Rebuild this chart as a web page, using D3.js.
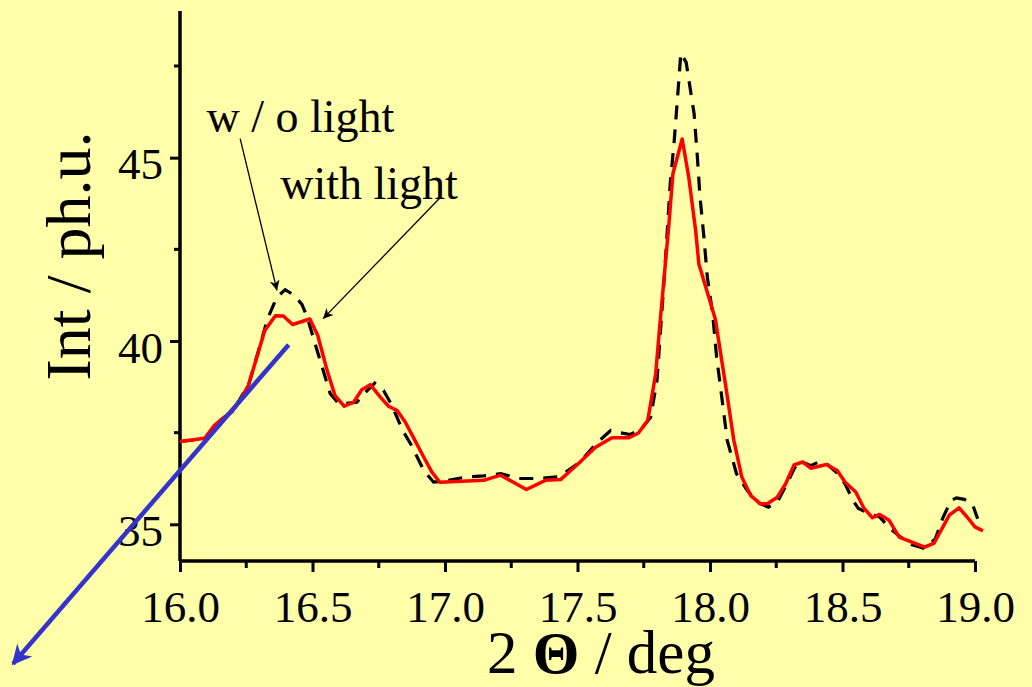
<!DOCTYPE html>
<html>
<head>
<meta charset="utf-8">
<script src="https://cdn.jsdelivr.net/npm/d3@7"></script>
<style>
  html, body { margin: 0; padding: 0; background: #fffea9; }
  svg { display: block; font-family: "Liberation Serif", "Times New Roman", serif; }
</style>
</head>
<body>
<svg width="1032" height="687"></svg>
<script>
// with light (red), [2theta, intensity]
const withLight = [
  [16.00, 37.26], [16.094, 37.35], [16.13, 37.70], [16.16, 37.88], [16.195, 38.06],
  [16.227, 38.38], [16.258, 38.79], [16.29, 39.56], [16.32, 40.29], [16.36, 40.69],
  [16.39, 40.68], [16.425, 40.45], [16.49, 40.60], [16.52, 40.15], [16.555, 39.20],
  [16.585, 38.51], [16.62, 38.22], [16.655, 38.33], [16.686, 38.67], [16.718, 38.81],
  [16.756, 38.47], [16.787, 38.22], [16.82, 38.10], [16.85, 37.79], [16.88, 37.38],
  [16.92, 36.83], [16.95, 36.43], [16.98, 36.15], [17.146, 36.20], [17.21, 36.34],
  [17.307, 35.95], [17.379, 36.20], [17.436, 36.22], [17.51, 36.70], [17.568, 37.10],
  [17.63, 37.36], [17.694, 37.36], [17.73, 37.49], [17.765, 37.83], [17.795, 39.10],
  [17.81, 40.38], [17.845, 43.19], [17.86, 44.56], [17.895, 45.51], [17.92, 44.46],
  [17.946, 43.00], [17.958, 42.10], [18.02, 40.60], [18.06, 38.74], [18.09, 37.29],
  [18.12, 36.29], [18.153, 35.79], [18.19, 35.56], [18.216, 35.56], [18.254, 35.74],
  [18.285, 36.10], [18.317, 36.62], [18.35, 36.70], [18.38, 36.53], [18.44, 36.63],
  [18.48, 36.47], [18.51, 36.15], [18.55, 35.88], [18.58, 35.45], [18.613, 35.18],
  [18.64, 35.27], [18.676, 35.11], [18.714, 34.65], [18.75, 34.55], [18.81, 34.38],
  [18.846, 34.49], [18.903, 35.25], [18.94, 35.45], [18.97, 35.20], [19.00, 34.93],
  [19.03, 34.82]
];

// without light (black dashed)
const withoutLight = [
  [16.00, 37.26], [16.094, 37.33], [16.15, 37.83], [16.20, 38.10], [16.26, 38.83],
  [16.30, 39.83], [16.33, 40.60], [16.365, 41.19], [16.397, 41.40], [16.43, 41.25],
  [16.46, 41.00], [16.48, 40.65], [16.51, 39.92], [16.567, 38.56], [16.60, 38.28],
  [16.667, 38.33], [16.70, 38.60], [16.735, 38.85], [16.768, 38.65], [16.80, 38.24],
  [16.84, 37.56], [16.87, 37.20], [16.92, 36.47], [16.957, 36.15], [17.00, 36.18],
  [17.08, 36.29], [17.146, 36.32], [17.21, 36.38], [17.28, 36.25], [17.36, 36.25],
  [17.43, 36.30], [17.51, 36.70], [17.57, 37.20], [17.625, 37.56], [17.66, 37.50],
  [17.70, 37.45], [17.74, 37.60], [17.776, 37.92], [17.80, 38.92], [17.83, 42.00],
  [17.85, 44.30], [17.864, 45.37], [17.876, 46.50], [17.89, 47.85], [17.91, 47.60],
  [17.94, 46.20], [17.952, 45.05], [17.962, 43.96], [17.977, 42.83], [17.99, 41.74],
  [18.01, 40.74], [18.025, 39.56], [18.046, 38.38], [18.065, 37.29], [18.10, 36.38],
  [18.14, 35.93], [18.18, 35.60], [18.22, 35.47], [18.254, 35.61], [18.29, 36.10],
  [18.32, 36.55], [18.35, 36.70], [18.38, 36.60], [18.41, 36.70], [18.44, 36.65],
  [18.48, 36.40], [18.51, 36.10], [18.54, 35.65], [18.56, 35.43], [18.60, 35.30],
  [18.64, 35.20], [18.68, 34.88], [18.72, 34.65], [18.76, 34.45], [18.81, 34.34],
  [18.85, 34.60], [18.88, 35.20], [18.91, 35.65], [18.93, 35.72], [18.96, 35.68],
  [18.99, 35.56], [19.01, 35.15]
];

const xTicks = [16.0, 16.5, 17.0, 17.5, 18.0, 18.5, 19.0];
const yTicks = [35, 40, 45];

// annotations in data coords: text anchor, arrow from -> to
const labels = [
  { text: 'w / o light', x: 16.10, y: 45.71, from: [16.227, 45.52], to: [16.366, 41.38] },
  { text: 'with light', x: 16.378, y: 43.88, from: [16.986, 43.94], to: [16.54, 40.61] }
];
const blueArrow = { from: [16.41, 39.9], to: [15.37, 31.2] };

const svg = d3.select('svg');
const margin = { left: 180, right: 57, top: 11, bottom: 126 };
const W = 1032, H = 687;

const x = d3.scaleLinear().domain([16, 19]).range([margin.left, W - margin.right]);
const y = d3.scaleLinear().domain([34, 49]).range([H - margin.bottom, margin.top]);

const defs = svg.append('defs');
defs.append('marker')
  .attr('id', 'thinArrow')
  .attr('viewBox', '0 0 10 10')
  .attr('refX', 10).attr('refY', 5)
  .attr('markerWidth', 14).attr('markerHeight', 10)
  .attr('markerUnits', 'userSpaceOnUse')
  .attr('orient', 'auto')
  .append('path').attr('d', 'M0,0 L10,5 L0,10 L3,5 Z').attr('fill', '#000');
defs.append('marker')
  .attr('id', 'blueHead')
  .attr('viewBox', '0 0 10 10')
  .attr('refX', 9).attr('refY', 5)
  .attr('markerWidth', 26).attr('markerHeight', 20)
  .attr('markerUnits', 'userSpaceOnUse')
  .attr('orient', 'auto')
  .append('path').attr('d', 'M0,0 L10,5 L0,10 L3,5 Z').attr('fill', '#3434cc');

// axes
const xAxis = d3.axisBottom(x).tickValues(xTicks).tickFormat(d3.format('.1f')).tickSize(11);
const yAxis = d3.axisLeft(y).tickValues(yTicks).tickFormat(d3.format('d')).tickSize(10);

const gx = svg.append('g').attr('transform', `translate(0,${y(34)})`).call(xAxis);
const gy = svg.append('g').attr('transform', `translate(${x(16)},0)`).call(yAxis);

// minor ticks
svg.append('g').selectAll('line')
  .data(d3.range(16.25, 19, 0.5))
  .join('line')
  .attr('x1', d => x(d)).attr('x2', d => x(d))
  .attr('y1', y(34)).attr('y2', y(34) + 7)
  .attr('stroke', '#000').attr('stroke-width', 3);
svg.append('g').selectAll('line')
  .data([37.5, 42.5, 47.5])
  .join('line')
  .attr('x1', x(16)).attr('x2', x(16) - 6)
  .attr('y1', d => y(d)).attr('y2', d => y(d))
  .attr('stroke', '#000').attr('stroke-width', 3);

[gx, gy].forEach(g => {
  g.attr('font-family', '"Liberation Serif", serif');
  g.select('.domain').attr('stroke', '#000').attr('stroke-width', 3.5);
  g.selectAll('.tick line').attr('stroke', '#000').attr('stroke-width', 3);
  g.selectAll('.tick text')
    .attr('font-size', 45)
    .attr('fill', '#000');
});
gx.select('.domain').attr('d', `M${x(16)},0H${x(19)}`);
gy.select('.domain').attr('d', `M0,${y(34)}V${y(49)}`);
gx.selectAll('.tick text').attr('y', 0).attr('dy', 0).attr('transform', 'translate(0,61)');
gy.selectAll('.tick text').attr('x', -17).attr('dy', 21);

// curves
const line = d3.line().x(d => x(d[0])).y(d => y(d[1]));

svg.append('path')
  .datum(withoutLight)
  .attr('d', line)
  .attr('fill', 'none')
  .attr('stroke', '#000')
  .attr('stroke-width', 3.2)
  .attr('stroke-dasharray', '14 10');

svg.append('path')
  .datum(withLight)
  .attr('d', line)
  .attr('fill', 'none')
  .attr('stroke', '#ff0000')
  .attr('stroke-width', 3.5)
  .attr('stroke-linejoin', 'round');

// annotations
svg.append('g').selectAll('text')
  .data(labels)
  .join('text')
  .attr('x', d => x(d.x))
  .attr('y', d => y(d.y))
  .attr('font-size', 46)
  .attr('fill', '#000')
  .text(d => d.text);

svg.append('g').selectAll('line')
  .data(labels)
  .join('line')
  .attr('x1', d => x(d.from[0])).attr('y1', d => y(d.from[1]))
  .attr('x2', d => x(d.to[0])).attr('y2', d => y(d.to[1]))
  .attr('stroke', '#000')
  .attr('stroke-width', 1.3)
  .attr('marker-end', 'url(#thinArrow)');

svg.append('line')
  .attr('x1', x(blueArrow.from[0])).attr('y1', y(blueArrow.from[1]))
  .attr('x2', x(blueArrow.to[0])).attr('y2', y(blueArrow.to[1]))
  .attr('stroke', '#3434cc')
  .attr('stroke-width', 4.5)
  .attr('marker-end', 'url(#blueHead)');

// axis titles
svg.append('text')
  .attr('transform', `translate(90,256) rotate(-90)`)
  .attr('text-anchor', 'middle')
  .attr('font-size', 64)
  .attr('fill', '#000')
  .text('Int / ph.u.');

const xt = svg.append('text')
  .attr('x', 487)
  .attr('y', 673)
  .attr('font-size', 61)
  .attr('fill', '#000');
xt.append('tspan').text('2 ');
xt.append('tspan').attr('font-weight', 'bold').attr('font-size', 60).text('Θ');
xt.append('tspan').text(' / deg');
</script>
</body>
</html>
